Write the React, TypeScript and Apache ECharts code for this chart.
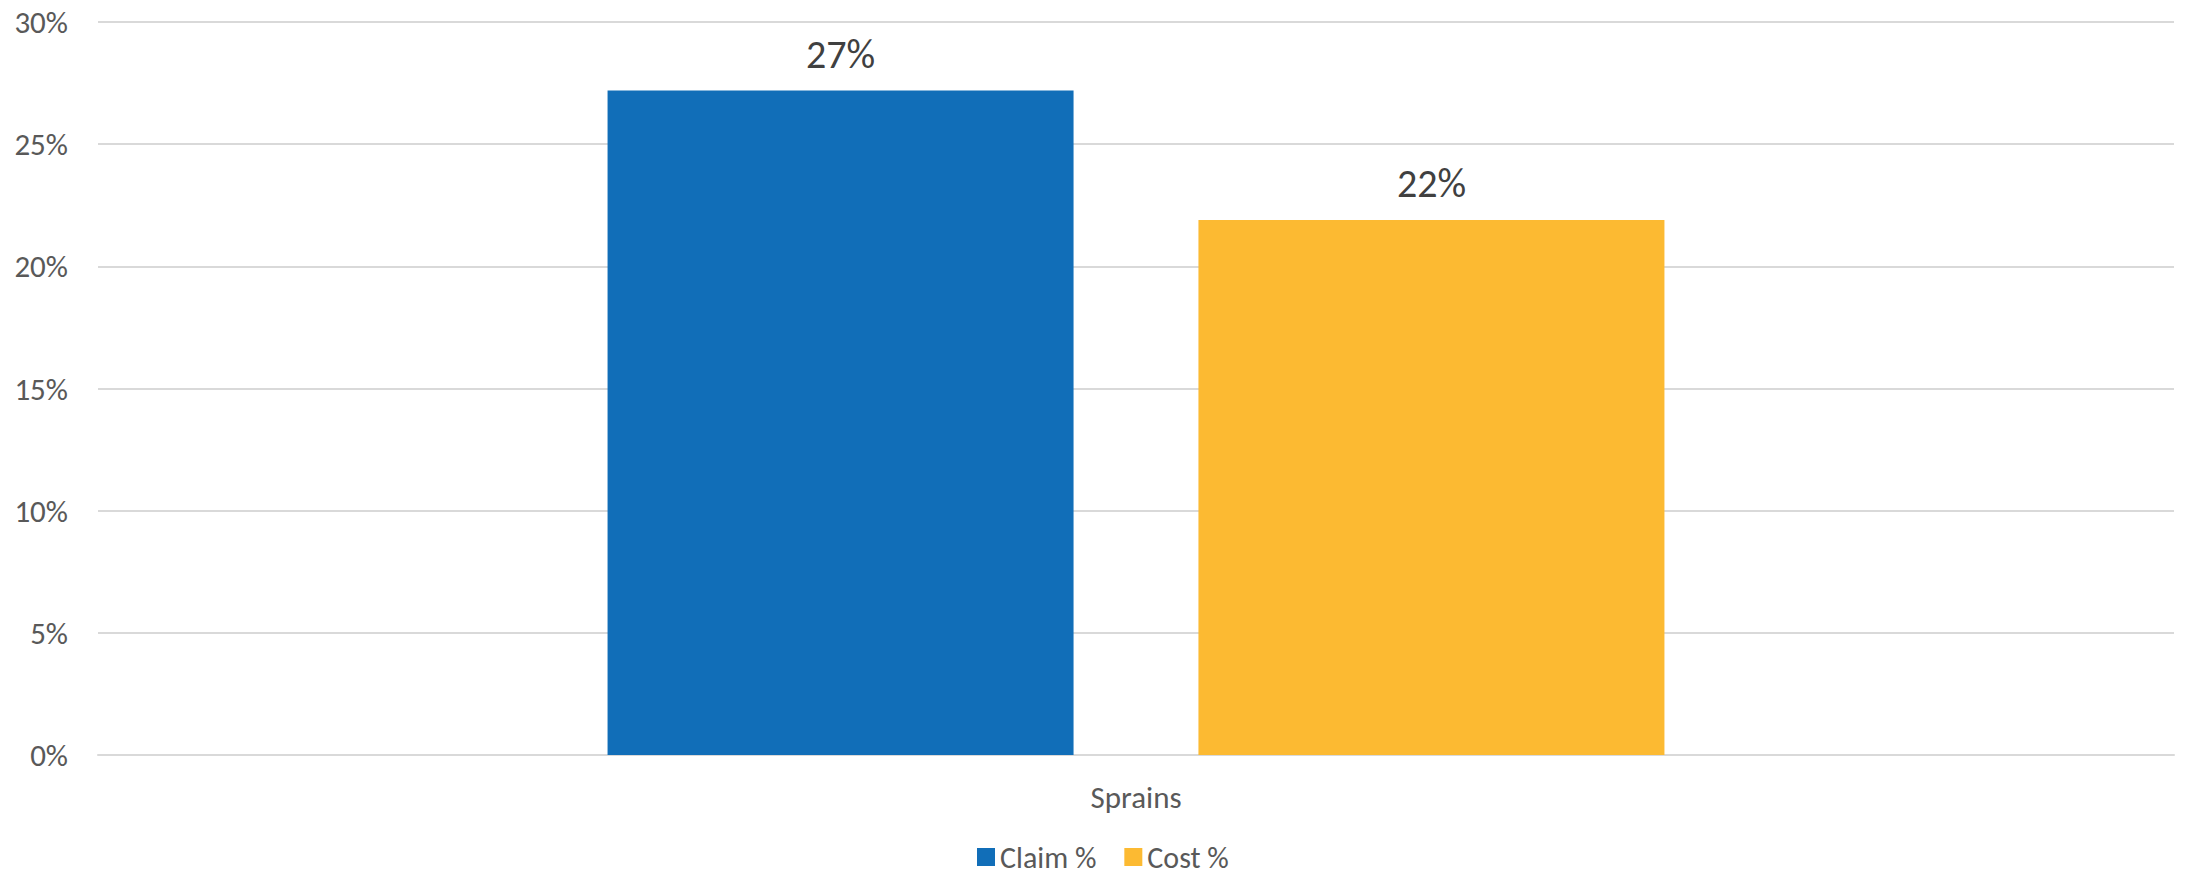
import React, { useEffect, useRef } from "react";
import * as echarts from "echarts";

const categories = ["Sprains"];
const claimPct = [27.2];
const costPct = [21.9];
const seriesNames = ["Claim %", "Cost %"];
const yTicks = { min: 0, max: 30, interval: 5 };

const FONT = "Calibri, Carlito, 'Open Sans', sans-serif";

export default function App() {
  const ref = useRef<HTMLDivElement>(null);
  useEffect(() => {
    if (!ref.current) return;
    const chart = echarts.init(ref.current, undefined, { renderer: "svg" });
    const labelCfg = {
      show: true,
      position: "top",
      distance: 16,
      color: "#404040",
      fontSize: 40,
      fontFamily: FONT,
      formatter: (p: any) => Math.round(p.value) + "%",
    };
    chart.setOption({
      animation: false,
      backgroundColor: "#ffffff",
      textStyle: { fontFamily: FONT },
      grid: { left: 98, right: 12, top: 22, bottom: 120, containLabel: false },
      legend: {
        data: seriesNames,
        left: 972,
        top: 837,
        icon: "rect",
        itemWidth: 18,
        itemHeight: 18,
        itemGap: 28,
        textStyle: { color: "#595959", fontSize: 30, fontFamily: FONT },
      },
      xAxis: {
        type: "category",
        data: categories,
        axisTick: { show: false },
        axisLine: { lineStyle: { color: "#d9d9d9", width: 2 } },
        axisLabel: { color: "#595959", fontSize: 31, fontFamily: FONT, margin: 26 },
      },
      yAxis: {
        type: "value",
        min: yTicks.min,
        max: yTicks.max,
        interval: yTicks.interval,
        axisLine: { show: false },
        axisTick: { show: false },
        axisLabel: {
          color: "#595959",
          fontSize: 31,
          fontFamily: FONT,
          margin: 30,
          formatter: "{value}%",
        },
        splitLine: { lineStyle: { color: "#d9d9d9", width: 2 } },
      },
      series: [
        {
          name: seriesNames[0],
          type: "bar",
          data: claimPct,
          barWidth: 466,
          barGap: "26.8%",
          itemStyle: { color: "#116EB8" },
          label: labelCfg,
        },
        {
          name: seriesNames[1],
          type: "bar",
          data: costPct,
          barWidth: 466,
          barGap: "26.8%",
          itemStyle: { color: "#FCBA32" },
          label: labelCfg,
        },
      ],
    });
    return () => chart.dispose();
  }, []);
  return (
    <div
      ref={ref}
      style={{ position: "fixed", left: 0, top: 0, width: 2186, height: 875 }}
    />
  );
}
